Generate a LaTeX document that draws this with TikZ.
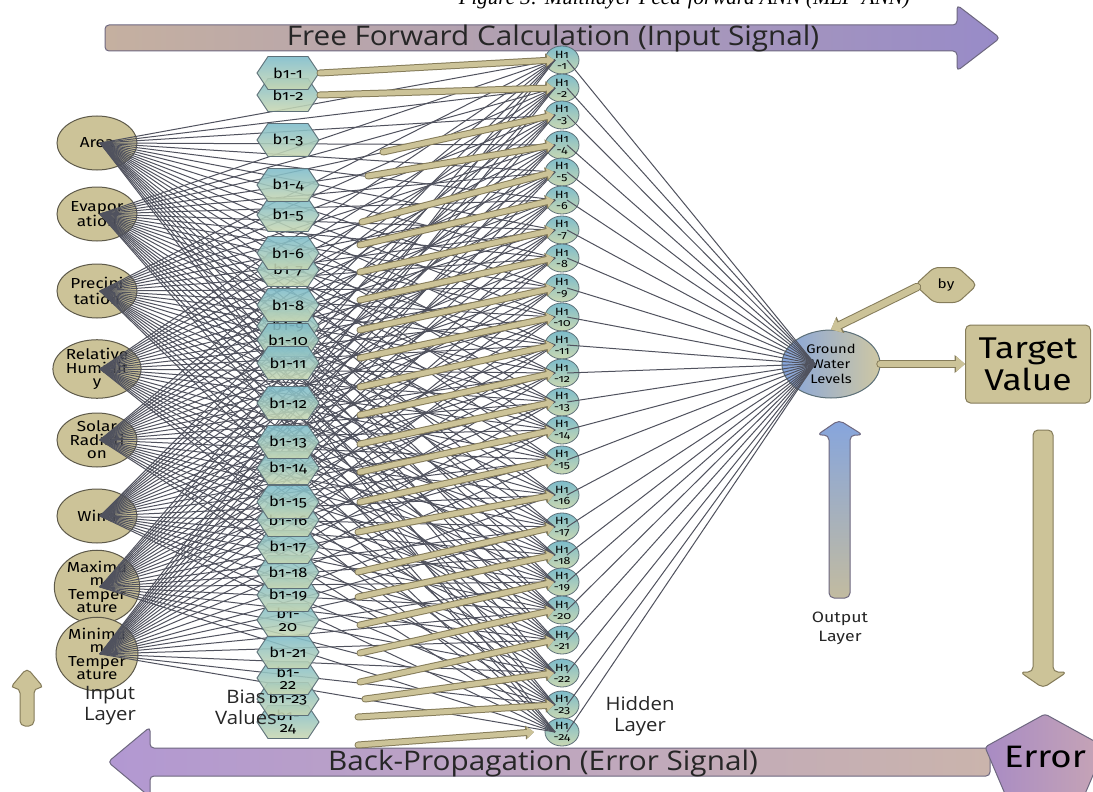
\documentclass[tikz,border=0pt]{standalone}
\usepackage{fontspec}
\setmainfont{Liberation Serif}
\newfontfamily\labelfont[Numbers=OldStyle,FakeStretch=1.18]{Fira Sans}
\newfontfamily\bannerfont[FakeStretch=1.1]{Open Sans}
\usetikzlibrary{shapes.geometric,arrows.meta}

\definecolor{tanfill}{HTML}{CCC398}
\definecolor{nodeedge}{HTML}{5E5A4A}
\definecolor{tanline}{HTML}{857C5A}
\definecolor{wiregray}{HTML}{50525E}
\definecolor{tealtop}{HTML}{7DBCCB}
\definecolor{tealbot}{HTML}{CAD8B2}
\definecolor{hidedge}{HTML}{5D7078}
\definecolor{skyblue}{HTML}{86A5DD}
\definecolor{outtan}{HTML}{CEC7A3}
\definecolor{lilac}{HTML}{988BC8}
\definecolor{mauve}{HTML}{C5B0A0}
\definecolor{violet}{HTML}{B298D2}
\definecolor{rosetan}{HTML}{CAB4AC}
\definecolor{pentL}{HTML}{A88BC4}
\definecolor{pentR}{HTML}{C7A5B5}
\definecolor{banneredge}{HTML}{6E6880}
\definecolor{uptan}{HTML}{C2BBA0}

% bias hexagon: name, centre y, label
\newcommand\biasnode[3]{%
  \path[biashex] (257,#2) -- (268,{#2-16.5}) -- (308,{#2-16.5}) -- (319,#2)
    -- (308,{#2+16.5}) -- (268,{#2+16.5}) -- cycle;
  \node[biaslabel] (#1) at (288,#2) {#3};}

\begin{document}
\begin{tikzpicture}[x=1pt,y=-1pt,
  wire/.style={draw=wiregray, line width=1pt},
  inp/.style={ellipse, draw=nodeedge, line width=1pt, fill=tanfill,
    minimum width=80pt, minimum height=54pt, inner sep=0pt, align=center,
    font=\labelfont\fontsize{14.5}{13.5}\selectfont},
  hid/.style={ellipse, draw=hidedge, line width=0.8pt, top color=tealtop,
    bottom color=tealbot, minimum width=34pt, minimum height=28pt,
    inner sep=0pt, align=center, font=\labelfont\fontsize{10.5}{11}\selectfont},
  biashex/.style={draw=hidedge, line width=0.9pt, top color=tealtop,
    bottom color=tealbot, fill opacity=0.88},
  biaslabel/.style={inner sep=0pt, align=center,
    font=\labelfont\fontsize{14}{12.5}\selectfont},
  fatarrow/.style={draw=tanfill, line width=5pt, line cap=round,
    -{Triangle[length=7pt,width=11pt]},
    preaction={draw=tanline, line width=7pt, line cap=round,
      -{Triangle[length=8.5pt,width=13.5pt]}}},
  bigfat/.style={draw=tanfill, line width=6.5pt, line cap=round,
    -{Triangle[length=9pt,width=15pt]},
    preaction={draw=tanline, line width=8.5pt, line cap=round,
      -{Triangle[length=10.5pt,width=17.5pt]}}},
  tanshape/.style={fill=tanfill, draw=tanline, line width=1pt, rounded corners=5pt},
  bannertext/.style={font=\bannerfont\fontsize{27}{27}\selectfont, text=black!85},
  caption/.style={font=\bannerfont\fontsize{18.5}{21}\selectfont, align=center, text=black!85},
  smalllabel/.style={font=\labelfont\fontsize{15}{19}\selectfont, align=center, text=black!85}]

\useasboundingbox (0,0) rectangle (1093,792);
\clip (0,0) rectangle (1093,792);
\fill[white] (0,0) rectangle (1093,792);

% heading line along the top edge
\node[anchor=base east, inner sep=0pt, font=\itshape\fontsize{21}{21}\selectfont] (title) at (910,5)
  {Figure 3: Multilayer Feed-forward ANN (MLP-ANN)};

% forward banner
\path[left color=mauve, right color=lilac, draw=banneredge, line width=1pt, rounded corners=4pt]
  (105,25) -- (957,25) -- (957,5) -- (1000,38) -- (957,71) -- (957,51) -- (105,51) -- cycle;
\node[bannertext] (fwd) at (553,38) {Free Forward Calculation (Input Signal)};

% back-propagation banner
\path[left color=violet, right color=rosetan, draw=banneredge, line width=1pt, rounded corners=4pt]
  (990,748) -- (150,748) -- (150,727) -- (108,762) -- (150,797) -- (150,776) -- (990,776) -- cycle;
\node[bannertext] (back) at (543,763) {Back-Propagation (Error Signal)};

% error pentagon
\path[left color=pentL, right color=pentR, draw=banneredge, line width=1pt, rounded corners=3pt]
  (1045,714) -- (1105,747) -- (1082,801) -- (1008,801) -- (985,747) -- cycle;
\node[font=\labelfont\fontsize{31}{31}\selectfont] (err) at (1045,757) {Error};

% input layer
\node[inp] (in1) at (97,143) {Area};
\node[inp] (in2) at (97,214) {Evapor\\ation};
\node[inp] (in3) at (97,291) {Precipi\\tation};
\node[inp] (in4) at (97,369) {Relative\\Humidit\\y};
\node[inp] (in5) at (97,440) {Solar\\Radiati\\on};
\node[inp] (in6) at (97,516) {Wind};
\node[inp] (in7) at (97,587) {Maximu\\m\\Temper\\ature};
\node[inp] (in8) at (97,654) {Minimu\\m\\Temper\\ature};

% hidden layer
\foreach \k/\yy in {1/60,2/88,3/115,4/145,5/172,6/200,7/230,8/258,9/288,10/317,
    11/345,12/373,13/402,14/430,15/460,16/495,17/527,18/555,19/582,20/610,
    21/640,22/673,23/705,24/732}
  \node[hid] (h\k) at (562,\yy) {H1\\-\k};

% output neuron
\node[ellipse, draw=hidedge, line width=1pt, left color=skyblue, right color=outtan,
  minimum width=98pt, minimum height=68pt, inner sep=0pt, align=center,
  font=\labelfont\fontsize{12.5}{15}\selectfont] (out) at (831,364) {Ground\\Water\\Levels};

% weights: every input to every hidden neuron, every hidden neuron to the output
\foreach \i in {1,...,8}
  \foreach \k in {1,...,24}
    \draw[wire] ([xshift=3pt]in\i.center) -- ([xshift=-7pt]h\k.center);
\foreach \k in {1,...,24}
  \draw[wire] ([xshift=5pt]h\k.center) -- ([xshift=-16pt]out.center);

% bias values (lower ones first so upper ones overlap them)
\biasnode{b9}{326}{b1-9}
\biasnode{b10}{340}{b1-10}
\biasnode{b24}{722}{b1-\\24}
\biasnode{b23}{699}{b1-23}
\biasnode{b22}{678}{b1-\\22}
\biasnode{b21}{652}{b1-21}
\biasnode{b20}{620}{b1-\\20}
\biasnode{b19}{595}{b1-19}
\biasnode{b18}{572}{b1-18}
\biasnode{b17}{547}{b1-17}
\biasnode{b16}{520}{b1-16}
\biasnode{b15}{502}{b1-15}
\biasnode{b14}{468}{b1-14}
\biasnode{b13}{442}{b1-13}
\biasnode{b12}{403}{b1-12}
\biasnode{b11}{363}{b1-11}
\biasnode{b8}{305}{b1-8}
\biasnode{b7}{270}{b1-7}
\biasnode{b6}{253}{b1-6}
\biasnode{b5}{215}{b1-5}
\biasnode{b4}{185}{b1-4}
\biasnode{b3}{140}{b1-3}
\biasnode{b2}{95}{b1-2}
\biasnode{b1}{73}{b1-1}

% bias connections into the hidden layer
\foreach \k/\sx/\sy in {3/383/152,4/368/176,5/362/222,6/360/245,7/360/272,8/360/300,
    9/360/330,10/360/358,11/360/387,12/360/415,13/360/444,14/360/472,15/360/502,
    16/358/532,17/358/572,18/358/597,19/360/625,20/360/653,21/360/682,22/365/699,
    23/358/717,24/358/745}
  \coordinate (s\k) at (\sx,\sy);
\draw[fatarrow] ([xshift=32pt]b1.center) -- ([xshift=-8pt]h1.center);
\draw[fatarrow] ([xshift=32pt]b2.center) -- ([xshift=-8pt]h2.center);
\foreach \k in {3,...,23}
  \draw[fatarrow] (s\k) -- ([xshift=-8pt]h\k.center);
\draw[fatarrow] (s24) -- ([xshift=-28pt]h24.center);

% output side
\path[tanshape, rounded corners=5pt] (915,285) -- (934,267.5) -- (958,267.5) -- (977,285)
  -- (958,302.5) -- (934,302.5) -- cycle;
\node[font=\labelfont\fontsize{13}{13}\selectfont] (by) at (946,285) {by};
\node[draw=tanline, line width=1pt, fill=tanfill, rounded corners=5pt,
  minimum width=125pt, minimum height=78pt, inner sep=0pt, align=center,
  font=\labelfont\fontsize{30}{32}\selectfont] (tgt) at (1028,364) {Target\\Value};
\draw[bigfat] ([xshift=-29pt,yshift=-2pt]by.center) -- (out.north);
\draw[bigfat] (out.east) -- (tgt.west);

% target to error
\path[tanshape] (1033,430) -- (1053,430) -- (1053,672) -- (1067,672) -- (1043,688)
  -- (1020,672) -- (1033,672) -- cycle;
% output layer arrow
\path[top color=skyblue, bottom color=uptan, draw=banneredge, line width=1pt, rounded corners=5pt]
  (829,598) -- (829,435) -- (817,435) -- (839,420) -- (863,435) -- (850,435) -- (850,598) -- cycle;
\node[smalllabel] (outlbl) at (840,628) {Output\\Layer};
% input layer arrow
\path[tanshape] (20,726) -- (20,688) -- (10,688) -- (27,668) -- (44,688) -- (34,688) -- (34,726) -- cycle;

% layer captions
\node[caption] (inlbl) at (110,706) {Input\\Layer};
\node[caption] (biaslbl) at (246,707) {Bias\\Values};
\node[caption] (hidlbl) at (640,716) {Hidden\\Layer};
\end{tikzpicture}
\end{document}
